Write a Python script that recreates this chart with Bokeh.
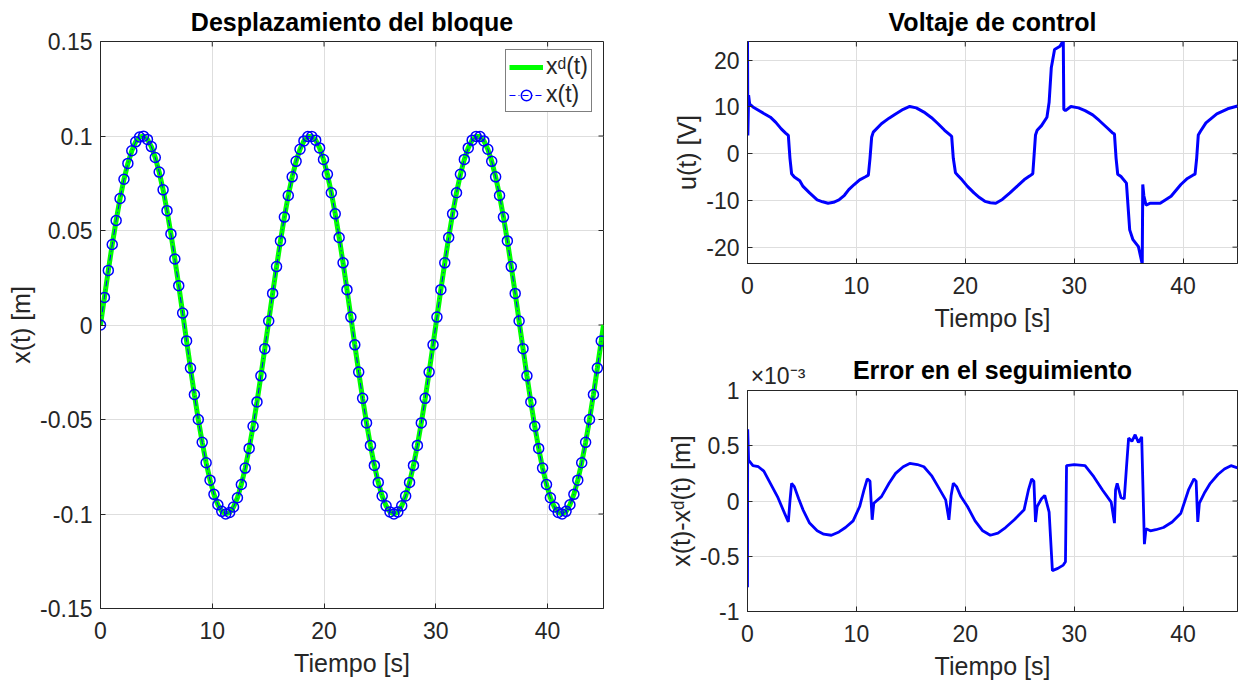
import math
from bokeh.plotting import figure
from bokeh.layouts import row, column
from bokeh.models import (Range1d, FixedTicker, LinearAxis, Legend, LegendItem,
                          CustomJSTickFormatter)
from bokeh.embed import file_html
from bokeh.resources import INLINE

FONT = "Liberation Sans"
TXT = "#262626"
GRID = "#dedede"

# ---------------- data ----------------
# sample times of the x(t) markers (every 0.35 s)
t_mark = [round(0.35 * k, 2) for k in range(129)]
x_mark = [
    0.0, 0.0146, 0.0289, 0.0426, 0.0553, 0.0669, 0.0771, 0.0855, 0.0922, 0.0969,
    0.0995, 0.0999, 0.0982, 0.0944, 0.0886, 0.0809, 0.0715, 0.0605, 0.0482, 0.0349,
    0.0208, 0.0063, -0.0084, -0.0228, -0.0368, -0.0500, -0.0621, -0.0729, -0.0821, -0.0896,
    -0.0951, -0.0986, -0.1000, -0.0992, -0.0963, -0.0914, -0.0844, -0.0757, -0.0653, -0.0536,
    -0.0407, -0.0269, -0.0125, 0.0021, 0.0167, 0.0309, 0.0445, 0.0571, 0.0685, 0.0784,
    0.0866, 0.0930, 0.0974, 0.0997, 0.0998, 0.0978, 0.0937, 0.0876, 0.0797, 0.0700,
    0.0588, 0.0463, 0.0329, 0.0187, 0.0042, -0.0105, -0.0249, -0.0388, -0.0518, -0.0637,
    -0.0743, -0.0833, -0.0905, -0.0957, -0.0989, -0.1000, -0.0989, -0.0957, -0.0905, -0.0833,
    -0.0743, -0.0637, -0.0518, -0.0388, -0.0249, -0.0105, 0.0042, 0.0187, 0.0329, 0.0463,
    0.0588, 0.0700, 0.0797, 0.0876, 0.0937, 0.0978, 0.0998, 0.0997, 0.0974, 0.0930,
    0.0866, 0.0784, 0.0685, 0.0571, 0.0445, 0.0309, 0.0167, 0.0021, -0.0125, -0.0269,
    -0.0407, -0.0536, -0.0653, -0.0757, -0.0844, -0.0914, -0.0963, -0.0992, -0.1000, -0.0986,
    -0.0951, -0.0896, -0.0821, -0.0729, -0.0621, -0.0500, -0.0368, -0.0228, -0.0084,
]
t_des = t_mark + [45.0]
x_des = x_mark + [0.0]

u_t = [0.0, 0.03, 0.1, 0.2, 0.5, 1.0, 1.5, 2.1, 2.6, 3.1, 3.5, 3.75, 3.9, 4.05, 4.3,
       4.8, 5.1, 5.7, 6.4, 6.9, 7.4, 7.9, 8.4, 8.9, 9.3, 9.8, 10.3, 10.8, 11.1, 11.25,
       11.4, 11.55, 12.3, 13.0, 13.6, 14.3, 14.9, 15.5, 16.2, 16.9, 17.5, 18.1, 18.6, 18.75,
       18.9, 19.1, 19.3, 19.7, 20.2, 20.8, 21.3, 21.8, 22.3, 22.8, 23.4, 24.1, 24.8, 25.4,
       25.9, 26.2, 26.3, 26.45, 26.6, 27.0, 27.5, 27.7, 27.9, 28.2, 28.7, 29.0, 29.05, 29.2,
       29.7, 30.4, 31.0, 31.7, 32.3, 33.0, 33.5, 33.7, 33.85, 34.0, 34.3, 34.8, 35.1, 35.4,
       35.9, 36.25, 36.3, 36.4, 36.6, 37.0, 37.9, 38.9, 39.8, 40.4, 40.9, 41.1, 41.25, 41.4,
       41.6, 42.1, 43.1, 44.1, 45.0]
u_v = [24.5, 3.9, 12.5, 10.6, 10.0, 9.3, 8.6, 7.8, 6.7, 5.3, 4.4, 3.9, -1.0, -4.3, -5.0,
       -5.8, -7.0, -8.4, -9.9, -10.3, -10.6, -10.4, -9.9, -8.9, -7.7, -6.6, -5.6, -5.0, -4.6, -1.0,
       3.5, 4.6, 6.4, 7.6, 8.5, 9.5, 10.1, 9.8, 8.9, 7.7, 6.4, 5.0, 4.0, 3.7,
       -1.0, -4.1, -4.6, -5.6, -7.0, -8.4, -9.4, -10.2, -10.5, -10.6, -9.8, -8.4, -6.9, -5.6,
       -4.8, -4.3, -1.0, 4.0, 5.0, 6.0, 7.8, 11.0, 18.4, 22.3, 23.0, 24.2, 9.5, 9.2,
       10.1, 9.8, 9.2, 8.3, 7.1, 5.6, 4.5, 4.2, -1.0, -4.4, -4.9, -6.3, -16.3, -18.4,
       -19.9, -23.6, -6.6, -9.0, -11.0, -10.6, -10.6, -9.1, -6.6, -5.3, -4.6, -4.4, -1.0, 4.0,
       4.8, 6.6, 8.5, 9.6, 10.2]

# tracking error, in units of 1e-3 m
e_t = [0.0, 0.02, 0.1, 0.5, 1.0, 1.5, 2.1, 2.8, 3.4, 3.75, 3.9, 4.05, 4.3, 4.7, 5.1,
       5.7, 6.4, 7.0, 7.7, 8.4, 9.0, 9.7, 10.3, 10.7, 11.0, 11.25, 11.45, 11.6, 12.3, 13.0,
       13.6, 14.3, 14.9, 15.6, 16.2, 16.9, 17.5, 18.2, 18.5, 18.7, 18.9, 19.2, 19.6, 20.2,
       20.9, 21.6, 22.3, 23.0, 23.7, 24.5, 25.4, 25.8, 26.1, 26.3, 26.45, 26.6, 27.0, 27.3,
       27.7, 28.0, 28.5, 29.0, 29.2, 29.3, 30.0, 31.0, 31.8, 32.6, 33.4, 33.7, 33.8, 33.95,
       34.3, 34.6, 34.8, 35.0, 35.3, 35.6, 35.9, 36.2, 36.35, 36.45, 36.6, 37.0, 37.5, 38.2,
       39.0, 39.8, 40.5, 41.0, 41.2, 41.35, 41.5, 42.0, 42.5, 43.2, 43.8, 44.4, 45.0]
e_v = [-0.78, 0.65, 0.37, 0.32, 0.31, 0.27, 0.16, 0.03, -0.11, -0.19, 0.0, 0.16, 0.13, 0.02, -0.08,
       -0.20, -0.27, -0.30, -0.31, -0.28, -0.24, -0.18, -0.05, 0.10, 0.20, 0.18, -0.17, -0.02, 0.04, 0.16,
       0.25, 0.31, 0.34, 0.33, 0.31, 0.23, 0.13, 0.01, -0.17, 0.05, 0.16, 0.13, 0.04, -0.05,
       -0.18, -0.27, -0.31, -0.29, -0.24, -0.17, -0.08, 0.10, 0.20, 0.18, -0.19, -0.05, 0.02, 0.05,
       -0.10, -0.63, -0.61, -0.58, -0.55, 0.32, 0.33, 0.32, 0.22, 0.10, -0.01, -0.20, 0.10, 0.16,
       0.03, 0.02, 0.30, 0.57, 0.54, 0.60, 0.53, 0.58, 0.0, -0.39, -0.25, -0.27, -0.26, -0.24,
       -0.19, -0.11, 0.10, 0.20, 0.18, -0.19, -0.02, 0.08, 0.16, 0.24, 0.29, 0.32, 0.30]

x_ticks = [0, 10, 20, 30, 40]
y_ticks_x = [-0.15, -0.1, -0.05, 0, 0.05, 0.1, 0.15]
y_ticks_u = [-20, -10, 0, 10, 20]
y_ticks_e = [-1, -0.5, 0, 0.5, 1]
exp_label = "\u00d710\u207b\u00b3"

TICK_PX = "23px"
LABEL_PX = "25px"
TITLE_PX = "25px"


def style_axis(ax):
    ax.axis_line_color = TXT
    ax.axis_line_width = 1
    ax.major_tick_line_color = TXT
    ax.major_tick_in = 5
    ax.major_tick_out = 0
    ax.minor_tick_line_color = None
    ax.major_label_text_font = FONT
    ax.major_label_text_color = TXT
    ax.major_label_text_font_size = TICK_PX
    ax.axis_label_text_font = FONT
    ax.axis_label_text_font_style = "normal"
    ax.axis_label_text_font_size = LABEL_PX
    ax.axis_label_text_color = TXT


def make_fig(fw, fh, bl, br, bt, bb, xr, yr, yt, title, xlabel, ylabel):
    p = figure(frame_width=fw, frame_height=fh,
               min_border_left=bl, min_border_right=br,
               min_border_top=bt, min_border_bottom=bb,
               x_range=Range1d(*xr), y_range=Range1d(*yr),
               output_backend="svg", toolbar_location=None)
    if title:
        p.title.text = title
        p.title.text_font = FONT
        p.title.text_font_size = TITLE_PX
        p.title.text_font_style = "bold"
        p.title.text_color = "black"
        p.title.align = "center"
        p.title.standoff = 11
    else:
        p.title = None
    p.background_fill_color = "white"
    p.border_fill_color = "white"
    p.outline_line_color = TXT
    p.outline_line_width = 1

    fmt = CustomJSTickFormatter(code="return tick.toString();")
    xtk = FixedTicker(ticks=x_ticks)
    ytk = FixedTicker(ticks=yt)
    p.xaxis.ticker = xtk
    p.yaxis.ticker = ytk
    p.xaxis.formatter = fmt
    p.yaxis.formatter = fmt
    p.xaxis.axis_label = xlabel
    p.yaxis.axis_label = ylabel
    for ax in p.xaxis + p.yaxis:
        style_axis(ax)
    p.xaxis.major_label_standoff = 13
    p.yaxis.major_label_standoff = 8
    p.xaxis.axis_label_standoff = 7
    p.yaxis.axis_label_standoff = 2

    # inward tick marks on the top and right edges of the box
    p.ray(x=x_ticks, y=[yr[1]] * len(x_ticks), length=5, length_units="screen",
          angle=-math.pi / 2, line_color=TXT, line_width=1)
    p.ray(x=[xr[1]] * len(yt), y=yt, length=5, length_units="screen",
          angle=math.pi, line_color=TXT, line_width=1)

    p.xgrid.ticker = xtk
    p.ygrid.ticker = ytk
    p.xgrid.grid_line_color = GRID
    p.ygrid.grid_line_color = GRID
    p.xgrid.grid_line_width = 1
    p.ygrid.grid_line_width = 1
    return p


# ---------------- left: displacement ----------------
p1 = make_fig(503, 567, 100, 60, 41, 70, (0, 45), (-0.15, 0.15), y_ticks_x,
              "Desplazamiento del bloque", "Tiempo [s]", "x(t) [m]")
g_des = p1.line(t_des, x_des, line_color="#00ff00", line_width=5)
g_line = p1.line(t_mark, x_mark, line_color="#0000ff", line_width=1, line_dash="6 3 1 3")
g_mark = p1.scatter(t_mark, x_mark, marker="circle", size=10, line_color="#0000ff",
                    fill_color=None, line_width=1.5)
legend = Legend(items=[LegendItem(label="x\u1d48(t)", renderers=[g_des]),
                       LegendItem(label="x(t)", renderers=[g_line, g_mark])],
                location=(405, 496))
legend.label_text_font = FONT
legend.label_text_font_size = TICK_PX
legend.label_text_color = TXT
legend.border_line_color = "black"
legend.border_line_width = 1
legend.background_fill_color = "white"
legend.background_fill_alpha = 1
legend.glyph_width = 34
legend.glyph_height = 26
legend.label_height = 26
legend.label_standoff = 3
legend.spacing = 1
legend.padding = 3
legend.margin = 0
p1.add_layout(legend)

# ---------------- top right: control voltage ----------------
p2 = make_fig(490, 222, 82, 3, 41, 87, (0, 45), (-23.5, 24), y_ticks_u,
              "Voltaje de control", "Tiempo [s]", "u(t) [V]")
p2.line(u_t, u_v, line_color="#0000ff", line_width=3)

# ---------------- bottom right: tracking error ----------------
p3 = make_fig(490, 221, 82, 3, 40, 67, (0, 45), (-1, 1), y_ticks_e,
              None, "Tiempo [s]", "x(t)-x\u1d48(t) [m]")
p3.line(e_t, e_v, line_color="#0000ff", line_width=2.8)
# exponent marker and title, drawn by an axis above the box
top = LinearAxis(ticker=FixedTicker(ticks=[2.8]),
                 formatter=CustomJSTickFormatter(code="return '%s';" % exp_label))
style_axis(top)
top.major_tick_in = 0
top.major_label_standoff = 2
top.axis_label = "Error en el seguimiento"
top.axis_label_text_font_style = "bold"
top.axis_label_text_font_size = TITLE_PX
top.axis_label_text_color = "black"
top.axis_label_standoff = -24
p3.add_layout(top, "above")

layout = row(p1, column(p2, p3))
open("out.html", "w").write(file_html(layout, INLINE))
